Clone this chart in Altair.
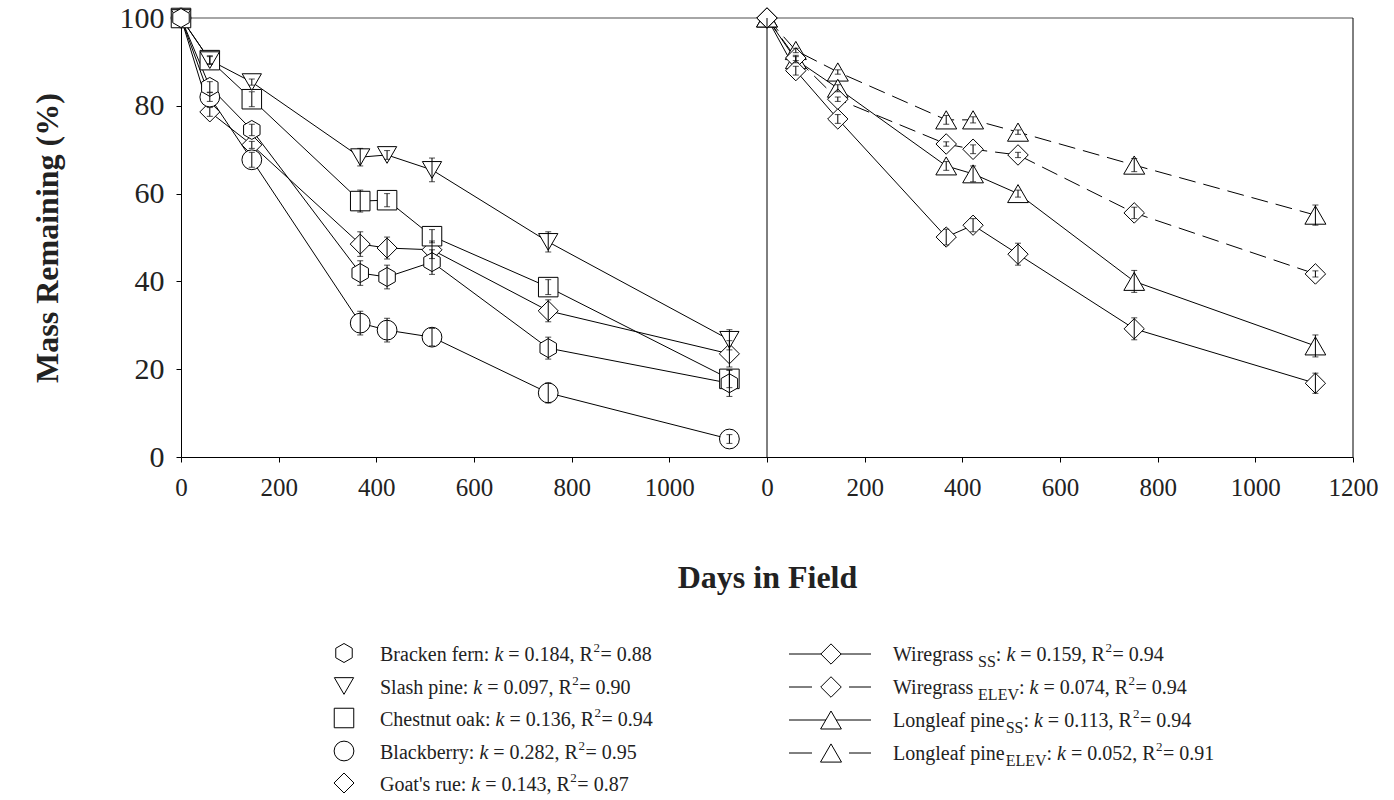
import altair as alt
import pandas as pd

# ---------------- data ----------------
days = [0, 59, 145, 367, 422, 514, 752, 1123]

series_ids = ["bracken", "slash", "chestnut", "blackberry", "goatsrue",
              "wire_ss", "wire_elev", "long_ss", "long_elev"]
panels = ["left", "left", "left", "left", "left", "right", "right", "right", "right"]
dashed = [False, False, False, False, False, False, True, False, True]

bracken = [100, 84.3, 74.5, 41.9, 41.0, 44.4, 24.8, 16.8]
bracken_err = [0, 1.2, 1.3, 2.8, 2.7, 2.8, 2.5, 3.0]
slash = [100, 90.4, 85.4, 68.3, 68.8, 65.4, 49.0, 26.7]
slash_err = [0, 1.0, 0.7, 2.0, 1.0, 2.7, 2.3, 2.3]
chestnut = [100, 90.4, 81.5, 58.3, 58.5, 50.3, 38.7, 17.8]
chestnut_err = [0, 0.8, 1.7, 2.5, 1.5, 1.5, 1.7, 2.0]
blackberry = [100, 82.0, 67.7, 30.5, 28.9, 27.3, 14.6, 4.1]
blackberry_err = [0, 1.0, 1.7, 2.7, 2.7, 2.0, 2.3, 1.0]
goatsrue = [100, 78.6, 71.1, 48.5, 47.6, 47.2, 33.3, 23.5]
goatsrue_err = [0, 1.0, 0.8, 2.8, 2.5, 2.0, 2.5, 3.0]

wire_ss = [100, 88.0, 77.0, 50.1, 52.8, 46.2, 29.2, 16.8]
wire_ss_err = [0, 1.0, 1.0, 1.8, 1.5, 2.5, 2.5, 2.3]
wire_elev = [100, 90.9, 81.5, 71.3, 70.1, 68.8, 55.6, 41.7]
wire_elev_err = [0, 0.6, 0.5, 0.5, 1.0, 0.6, 1.3, 0.7]
long_ss = [100, 90.5, 84.0, 66.3, 64.5, 60.0, 40.0, 25.3]
long_ss_err = [0, 0.7, 0.8, 1.0, 1.8, 0.8, 2.5, 2.5]
long_elev = [100, 92.6, 87.7, 76.8, 76.8, 74.0, 66.5, 55.1]
long_elev_err = [0, 0.5, 0.5, 1.0, 0.7, 0.5, 1.5, 2.3]

masses = [bracken, slash, chestnut, blackberry, goatsrue, wire_ss, wire_elev, long_ss, long_elev]
errors = [bracken_err, slash_err, chestnut_err, blackberry_err, goatsrue_err,
          wire_ss_err, wire_elev_err, long_ss_err, long_elev_err]

left_names = ["Bracken fern", "Slash pine", "Chestnut oak", "Blackberry", "Goat's rue"]
left_k = [0.184, 0.097, 0.136, 0.282, 0.143]
left_r2 = [0.88, 0.90, 0.94, 0.95, 0.87]
right_names = ["Wiregrass", "Wiregrass", "Longleaf pine", "Longleaf pine"]
right_subs = ["SS", "ELEV", "SS", "ELEV"]
right_k = [0.159, 0.074, 0.113, 0.052]
right_r2 = [0.94, 0.94, 0.94, 0.91]

x_ticks = [0, 200, 400, 600, 800, 1000, 1200, 1400, 1600, 1800, 2000, 2200, 2400]
y_ticks = [0, 20, 40, 60, 80, 100]

# ---------------- styling ----------------
HEX = "M0,-1L0.866,-0.5L0.866,0.5L0,1L-0.866,0.5L-0.866,-0.5Z"
shapes = [HEX, "triangle-down", "square", "circle", "diamond",
          "diamond", "diamond", "triangle-up", "triangle-up"]
sizes = [361, 441, 256, 361, 441, 441, 441, 441, 441]
FONT = "Liberation Serif"
TXT = "#222222"
PANEL_OFFSET = 1200
PLOT_X0, PLOT_Y0 = 181, 18

# ---------------- main table ----------------
rows = []
for idx, (sid, pnl, dsh, m, e) in enumerate(zip(series_ids, panels, dashed, masses, errors)):
    for d, v, er in zip(days, m, e):
        rows.append({"series": sid, "idx": idx, "day": d, "mass": v, "err": er,
                     "lo": v - er, "hi": v + er, "dashed": dsh,
                     "xpos": d + (PANEL_OFFSET if pnl == "right" else 0)})
df = pd.DataFrame(rows)
df_pts = df.sort_values(["idx", "day"], ascending=[False, True]).reset_index(drop=True)

shape_scale = alt.Scale(domain=series_ids, range=shapes)
size_scale = alt.Scale(domain=series_ids, range=sizes)

xs = alt.Scale(domain=[0, 2400], nice=False, zero=False)
ys = alt.Scale(domain=[0, 100], nice=False, zero=False)

X = alt.X("xpos:Q", scale=xs, axis=alt.Axis(
    values=x_ticks, title="Days in Field",
    labelExpr="datum.value >= 1200 ? datum.value - 1200 : datum.value",
    labelFontSize=25, labelPadding=13, tickSize=5, labelFlush=False, labelOverlap=False,
    titleFontSize=32, titleFontWeight="bold", titleX=586, titleY=120,
    titleBaseline="middle", grid=False))
Y = alt.Y("mass:Q", scale=ys, axis=alt.Axis(
    values=y_ticks, title="Mass Remaining (%)", labelFontSize=30, labelPadding=12,
    tickSize=5, labelFlush=False, titleFontSize=32, titleFontWeight="bold",
    titleAngle=270, titleX=-134, titleY=219.5, titleBaseline="middle",
    titleAlign="center", grid=False))

base = alt.Chart(df)

top_rule = alt.Chart(pd.DataFrame({"v": [100]})).mark_rule(color="#888888", strokeWidth=1.5).encode(
    y=alt.Y("v:Q", scale=ys))
vrules = alt.Chart(pd.DataFrame({"v": [1200, 2400]})).mark_rule(color="black", strokeWidth=1).encode(
    x=alt.X("v:Q", scale=xs))

solid_lines = base.transform_filter("!datum.dashed").mark_line(color="black", strokeWidth=1).encode(
    x=X, y=Y, detail="series:N", order="day:Q")
dash_lines = base.transform_filter("datum.dashed").mark_line(
    color="black", strokeWidth=1, strokeDash=[17, 8]).encode(
    x=alt.X("xpos:Q", scale=xs), y=alt.Y("mass:Q", scale=ys), detail="series:N", order="day:Q")

points = alt.Chart(df_pts).mark_point(filled=True, fill="white", stroke="black", strokeWidth=1, opacity=1).encode(
    x=alt.X("xpos:Q", scale=xs), y=alt.Y("mass:Q", scale=ys),
    shape=alt.Shape("series:N", scale=shape_scale, legend=None),
    size=alt.Size("series:N", scale=size_scale, legend=None))

eb = base.transform_filter("datum.err > 0")
err_rule = eb.mark_rule(color="black", strokeWidth=1).encode(
    x=alt.X("xpos:Q", scale=xs), y=alt.Y("lo:Q", scale=ys), y2="hi:Q")
cap_lo = eb.mark_tick(orient="horizontal", size=6, thickness=1, color="black").encode(
    x=alt.X("xpos:Q", scale=xs), y=alt.Y("lo:Q", scale=ys))
cap_hi = eb.mark_tick(orient="horizontal", size=6, thickness=1, color="black").encode(
    x=alt.X("xpos:Q", scale=xs), y=alt.Y("hi:Q", scale=ys))

# ---------------- custom legend ----------------
W = {" ": 250, "'": 180, ",": 250, ".": 250, ":": 278, "=": 564,
     "A": 722, "B": 667, "C": 667, "D": 722, "E": 611, "F": 556, "G": 722, "H": 722,
     "I": 333, "L": 611, "M": 889, "R": 667, "S": 556, "T": 611, "V": 722, "W": 944,
     "a": 444, "b": 500, "c": 444, "d": 500, "e": 444, "f": 333, "g": 500, "h": 500,
     "i": 278, "k": 500, "l": 278, "m": 778, "n": 500, "o": 500, "p": 500, "r": 333,
     "s": 389, "t": 278, "u": 500, "v": 500, "y": 500}
FS = 20
SUB_FS = 16
SUP_FS = 13


def tw(s, fs, italic=False):
    if italic:
        return sum(444 if c == "k" else W.get(c, 500) for c in s) * fs / 1000
    return sum(W.get(c, 500) for c in s) * fs / 1000


leg_text = []
leg_sym = []
leg_lines = []


def put(cur, y, s, kind, fs, italic=False):
    """place a text piece (leading spaces become an x offset) and return new cursor."""
    stripped = s.lstrip(" ")
    lead = len(s) - len(stripped)
    x = cur + lead * 250 * fs / 1000
    if stripped.strip():
        leg_text.append({"lx": x, "ly": y, "text": stripped, "kind": kind})
    return cur + tw(s, fs, italic)


def add_row(x0, yc, name, sub, k, r2, gap):
    yb = yc + 7
    cur = x0
    if sub:
        cur = put(cur, yb, name, "n", FS) + gap
        cur = put(cur, yb + 6, sub, "sub", SUB_FS)
        cur = put(cur, yb, ": ", "n", FS)
    else:
        cur = put(cur, yb, name + ": ", "n", FS)
    cur = put(cur, yb, "k", "i", FS, True)
    cur = put(cur, yb, " = %.3f, R" % k, "n", FS)
    put(cur + 0.5, yb - 9, "2", "sup", SUP_FS)
    cur += 7.5
    put(cur, yb, "= %.2f" % r2, "n", FS)


left_rows_y = [654, 687, 719, 752, 784]
for i, (nm, k, r2) in enumerate(zip(left_names, left_k, left_r2)):
    yc = left_rows_y[i] - PLOT_Y0
    add_row(380 - PLOT_X0, yc, nm, None, k, r2, 0)
    leg_sym.append({"lx": 344 - PLOT_X0, "ly": yc - 1, "series": series_ids[i]})

right_rows_y = [654, 687, 720, 753]
for i, (nm, sb, k, r2) in enumerate(zip(right_names, right_subs, right_k, right_r2)):
    yc = right_rows_y[i] - PLOT_Y0
    add_row(893 - PLOT_X0, yc, nm, sb, k, r2, 4 if nm == "Wiregrass" else 1)
    sid = series_ids[5 + i]
    leg_sym.append({"lx": 831 - PLOT_X0, "ly": yc, "series": sid})
    if dashed[5 + i]:
        leg_lines.append({"lx": 789 - PLOT_X0, "lx2": 812 - PLOT_X0, "ly": yc})
        leg_lines.append({"lx": 849 - PLOT_X0, "lx2": 871 - PLOT_X0, "ly": yc})
    else:
        leg_lines.append({"lx": 789 - PLOT_X0, "lx2": 871 - PLOT_X0, "ly": yc})

text_df = pd.DataFrame(leg_text)
sym_df = pd.DataFrame(leg_sym)
line_df = pd.DataFrame(leg_lines)

LX = alt.X("lx:Q", scale=None, axis=None)
LY = alt.Y("ly:Q", scale=None, axis=None)

leg_line_layer = alt.Chart(line_df).mark_rule(color="black", strokeWidth=1).encode(
    x=LX, x2="lx2:Q", y=LY)
leg_sym_layer = alt.Chart(sym_df).mark_point(filled=True, fill="white", stroke="black",
                                             strokeWidth=1, opacity=1).encode(
    x=LX, y=LY,
    shape=alt.Shape("series:N", scale=shape_scale, legend=None),
    size=alt.Size("series:N", scale=size_scale, legend=None))


def text_layer(kind, fs, style="normal"):
    return alt.Chart(text_df[text_df["kind"] == kind]).mark_text(
        align="left", baseline="alphabetic", font=FONT, fontSize=fs,
        fontStyle=style, color=TXT).encode(x=LX, y=LY, text="text:N")


layers = [top_rule, solid_lines, dash_lines, points, err_rule, cap_lo, cap_hi, vrules,
          leg_line_layer, leg_sym_layer,
          text_layer("n", FS), text_layer("i", FS, "italic"),
          text_layer("sub", SUB_FS), text_layer("sup", SUP_FS)]

chart = alt.layer(*layers).properties(
    width=1172, height=439,
    autosize=alt.AutoSizeParams(type="none"),
    padding={"left": PLOT_X0, "top": PLOT_Y0, "right": 41, "bottom": 343},
    background="white",
).configure_view(stroke=None).configure_axis(
    labelFont=FONT, titleFont=FONT, labelColor=TXT, titleColor=TXT,
    domainColor="black", tickColor="black", domainWidth=1, tickWidth=1,
)

chart.save("out.html", embed_options={"renderer": "svg", "actions": False})
